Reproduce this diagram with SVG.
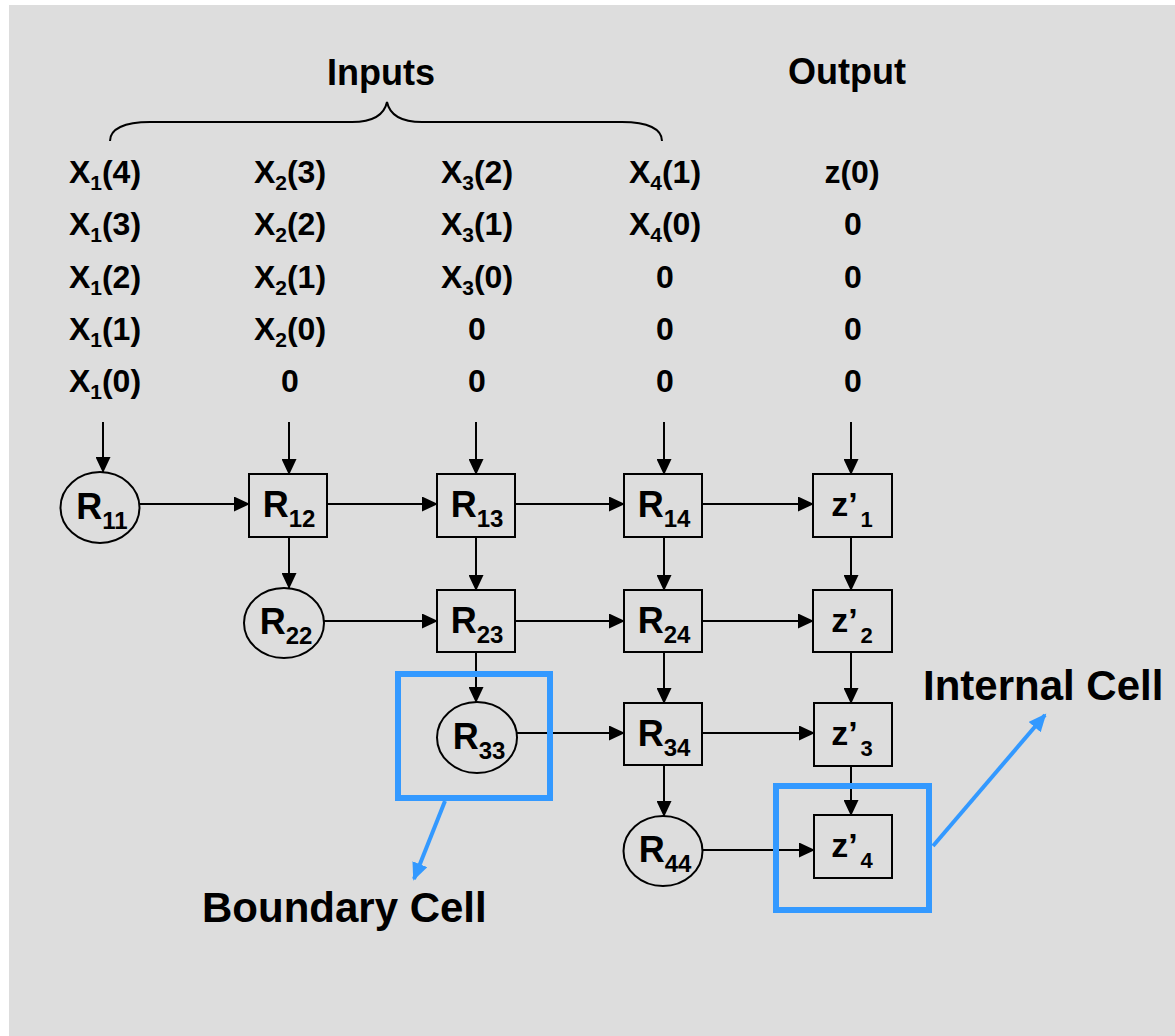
<svg xmlns="http://www.w3.org/2000/svg" width="1175" height="1036" viewBox="0 0 1175 1036">
  <style>
    text { font-family: "Liberation Sans", Arial, sans-serif; font-weight: bold; fill: #000; }
    .hdr { font-size: 36px; text-anchor: middle; }
    .seq { font-size: 32px; text-anchor: middle; }
    .sub { font-size: 21px; }
    .cell { fill: none; stroke: #000; stroke-width: 2; }
    .lbl { font-size: 36px; text-anchor: middle; }
    .lsub { font-size: 24px; }
    .zl { font-size: 34px; text-anchor: middle; }
    .zsub { font-size: 22px; }
    .conn line { stroke: #000; stroke-width: 2; marker-end: url(#ah); }
    .hl { fill: none; stroke: #3399ff; stroke-width: 6; }
    .hla { stroke: #3399ff; stroke-width: 4; marker-end: url(#bh); }
    .note { font-size: 42px; }
  </style>
  <defs>
    <marker id="ah" markerUnits="userSpaceOnUse" markerWidth="17" markerHeight="15" refX="15" refY="7.5" orient="auto">
      <path d="M0,0 L16,7.5 L0,15 Z" fill="#000"/>
    </marker>
    <marker id="bh" markerUnits="userSpaceOnUse" markerWidth="20" markerHeight="18" refX="16" refY="8" orient="auto">
      <path d="M0,0 L18,8 L0,16 Z" fill="#3399ff"/>
    </marker>
  </defs>

  <!-- canvas -->
  <rect x="0" y="0" width="1175" height="1036" fill="#ffffff"/>
  <rect x="9" y="5" width="1166" height="1031" fill="#dddddd"/>

  <!-- headings and brace -->
  <g id="headings">
    <text class="hdr" x="381" y="85">Inputs</text>
    <text class="hdr" x="847" y="84">Output</text>
    <path d="M110,141 C110,129 124,122 150,122 L352,122 C372,122 384,116 387,102 C390,116 402,122 422,122 L622,122 C648,122 662,129 662,141" fill="none" stroke="#000" stroke-width="2"/>
  </g>

  <!-- input / output sequences -->
  <g id="sequences">
    <text class="seq" x="105" y="183">X<tspan class="sub" dy="7">1</tspan><tspan dy="-7">(4)</tspan></text>
    <text class="seq" x="105" y="235">X<tspan class="sub" dy="7">1</tspan><tspan dy="-7">(3)</tspan></text>
    <text class="seq" x="105" y="288">X<tspan class="sub" dy="7">1</tspan><tspan dy="-7">(2)</tspan></text>
    <text class="seq" x="105" y="340">X<tspan class="sub" dy="7">1</tspan><tspan dy="-7">(1)</tspan></text>
    <text class="seq" x="105" y="392">X<tspan class="sub" dy="7">1</tspan><tspan dy="-7">(0)</tspan></text>

    <text class="seq" x="290" y="183">X<tspan class="sub" dy="7">2</tspan><tspan dy="-7">(3)</tspan></text>
    <text class="seq" x="290" y="235">X<tspan class="sub" dy="7">2</tspan><tspan dy="-7">(2)</tspan></text>
    <text class="seq" x="290" y="288">X<tspan class="sub" dy="7">2</tspan><tspan dy="-7">(1)</tspan></text>
    <text class="seq" x="290" y="340">X<tspan class="sub" dy="7">2</tspan><tspan dy="-7">(0)</tspan></text>
    <text class="seq" x="290" y="392">0</text>

    <text class="seq" x="477" y="183">X<tspan class="sub" dy="7">3</tspan><tspan dy="-7">(2)</tspan></text>
    <text class="seq" x="477" y="235">X<tspan class="sub" dy="7">3</tspan><tspan dy="-7">(1)</tspan></text>
    <text class="seq" x="477" y="288">X<tspan class="sub" dy="7">3</tspan><tspan dy="-7">(0)</tspan></text>
    <text class="seq" x="477" y="340">0</text>
    <text class="seq" x="477" y="392">0</text>

    <text class="seq" x="665" y="183">X<tspan class="sub" dy="7">4</tspan><tspan dy="-7">(1)</tspan></text>
    <text class="seq" x="665" y="235">X<tspan class="sub" dy="7">4</tspan><tspan dy="-7">(0)</tspan></text>
    <text class="seq" x="665" y="288">0</text>
    <text class="seq" x="665" y="340">0</text>
    <text class="seq" x="665" y="392">0</text>

    <text class="seq" x="852" y="183">z(0)</text>
    <text class="seq" x="853" y="235">0</text>
    <text class="seq" x="853" y="288">0</text>
    <text class="seq" x="853" y="340">0</text>
    <text class="seq" x="853" y="392">0</text>
  </g>

  <!-- connectors -->
  <g id="connectors" class="conn">
    <!-- feed-in from the sequences -->
    <line x1="103" y1="422" x2="103" y2="472"/>
    <line x1="289" y1="422" x2="289" y2="474"/>
    <line x1="476" y1="422" x2="476" y2="474"/>
    <line x1="664" y1="422" x2="664" y2="474"/>
    <line x1="851" y1="422" x2="851" y2="474"/>
    <!-- row 1 -->
    <line x1="139" y1="504" x2="249" y2="504"/>
    <line x1="327" y1="504" x2="437" y2="504"/>
    <line x1="515" y1="504" x2="624" y2="504"/>
    <line x1="702" y1="504" x2="813" y2="504"/>
    <!-- row 2 -->
    <line x1="324" y1="621" x2="437" y2="621"/>
    <line x1="515" y1="621" x2="624" y2="621"/>
    <line x1="702" y1="621" x2="813" y2="621"/>
    <!-- row 3 -->
    <line x1="517" y1="733" x2="624" y2="733"/>
    <line x1="702" y1="733" x2="814" y2="733"/>
    <!-- row 4 -->
    <line x1="703" y1="850" x2="814" y2="850"/>
    <!-- vertical links -->
    <line x1="289" y1="537" x2="289" y2="588"/>
    <line x1="476" y1="537" x2="476" y2="590"/>
    <line x1="476" y1="652" x2="476" y2="702"/>
    <line x1="664" y1="537" x2="664" y2="590"/>
    <line x1="664" y1="652" x2="664" y2="703"/>
    <line x1="664" y1="765" x2="664" y2="816"/>
    <line x1="851" y1="537" x2="851" y2="590"/>
    <line x1="851" y1="652" x2="851" y2="703"/>
    <line x1="851" y1="765" x2="851" y2="815"/>
  </g>

  <!-- boundary cells (circles) -->
  <g id="R11">
    <ellipse class="cell" cx="100" cy="507.5" rx="39.5" ry="35.5"/>
    <text class="lbl" x="102" y="519">R<tspan class="lsub" dy="10">11</tspan></text>
  </g>
  <g id="R22">
    <ellipse class="cell" cx="284" cy="623" rx="40" ry="35"/>
    <text class="lbl" x="286" y="634">R<tspan class="lsub" dy="10">22</tspan></text>
  </g>
  <g id="R33">
    <ellipse class="cell" cx="477" cy="737.5" rx="40" ry="35.5"/>
    <text class="lbl" x="479" y="749">R<tspan class="lsub" dy="10">33</tspan></text>
  </g>
  <g id="R44">
    <ellipse class="cell" cx="663" cy="851" rx="39.5" ry="35"/>
    <text class="lbl" x="665" y="862">R<tspan class="lsub" dy="10">44</tspan></text>
  </g>

  <!-- internal cells (squares) -->
  <g id="R12">
    <rect class="cell" x="249" y="474" width="78" height="63"/>
    <text class="lbl" x="289" y="517">R<tspan class="lsub" dy="10">12</tspan></text>
  </g>
  <g id="R13">
    <rect class="cell" x="437" y="474" width="78" height="63"/>
    <text class="lbl" x="477" y="517">R<tspan class="lsub" dy="10">13</tspan></text>
  </g>
  <g id="R14">
    <rect class="cell" x="624" y="474" width="78" height="63"/>
    <text class="lbl" x="664" y="517">R<tspan class="lsub" dy="10">14</tspan></text>
  </g>
  <g id="R23">
    <rect class="cell" x="437" y="590" width="78" height="62"/>
    <text class="lbl" x="477" y="633">R<tspan class="lsub" dy="10">23</tspan></text>
  </g>
  <g id="R24">
    <rect class="cell" x="624" y="590" width="78" height="62"/>
    <text class="lbl" x="664" y="633">R<tspan class="lsub" dy="10">24</tspan></text>
  </g>
  <g id="R34">
    <rect class="cell" x="624" y="703" width="78" height="62"/>
    <text class="lbl" x="664" y="746">R<tspan class="lsub" dy="10">34</tspan></text>
  </g>

  <!-- output column -->
  <g id="z1">
    <rect class="cell" x="813" y="474" width="79" height="63"/>
    <text class="zl" x="852" y="516">z’<tspan class="zsub" dx="3" dy="11">1</tspan></text>
  </g>
  <g id="z2">
    <rect class="cell" x="813" y="590" width="79" height="62"/>
    <text class="zl" x="852" y="632">z’<tspan class="zsub" dx="3" dy="11">2</tspan></text>
  </g>
  <g id="z3">
    <rect class="cell" x="814" y="703" width="78" height="63"/>
    <text class="zl" x="852" y="745">z’<tspan class="zsub" dx="3" dy="11">3</tspan></text>
  </g>
  <g id="z4">
    <rect class="cell" x="814" y="815" width="78" height="63"/>
    <text class="zl" x="852" y="857">z’<tspan class="zsub" dx="3" dy="11">4</tspan></text>
  </g>

  <!-- highlighted examples -->
  <g id="boundary-highlight">
    <rect class="hl" x="398" y="674" width="152" height="124"/>
    <line class="hla" x1="445" y1="801" x2="414" y2="879"/>
    <text class="note" x="202" y="922">Boundary Cell</text>
  </g>
  <g id="internal-highlight">
    <rect class="hl" x="776" y="786" width="153" height="124"/>
    <line class="hla" x1="933" y1="846" x2="1045" y2="715"/>
    <text class="note" x="923" y="700">Internal Cell</text>
  </g>
</svg>
